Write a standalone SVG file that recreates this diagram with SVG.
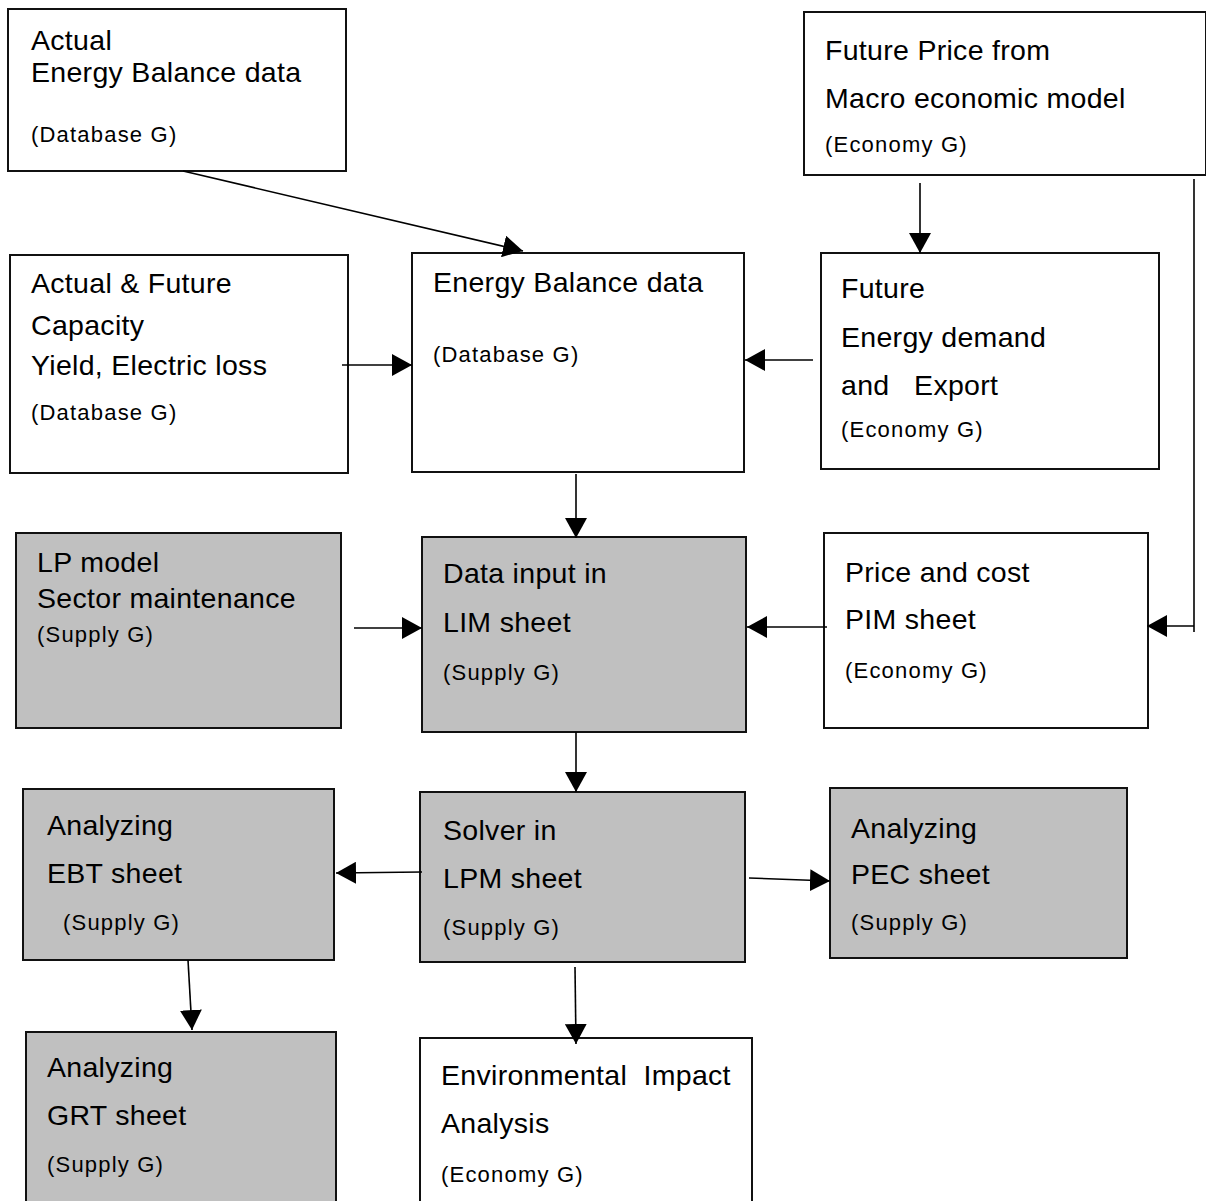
<svg xmlns="http://www.w3.org/2000/svg" width="1206" height="1201" viewBox="0 0 1206 1201">
<style>
.box{fill:#fff;stroke:#111;stroke-width:2}
.gray{fill:#c0c0c0;stroke:#111;stroke-width:2}
.t{font-family:"Liberation Sans",Arial,sans-serif;font-size:28.5px;letter-spacing:0.3px;fill:#000;white-space:pre}
.s{font-family:"Liberation Sans",Arial,sans-serif;font-size:22px;letter-spacing:1.2px;fill:#000;white-space:pre}
.c{fill:none;stroke:#000;stroke-width:1.6}
</style>
<defs>
<marker id="ah" markerUnits="userSpaceOnUse" markerWidth="20" markerHeight="22" viewBox="0 0 20 22" refX="20" refY="11" orient="auto">
<path d="M0,0 L20,11 L0,22 z" fill="#000"/>
</marker>
</defs>
<rect width="1206" height="1201" fill="#fff"/>
<g id="n1">
<rect class="box" x="8" y="9" width="338" height="162"/>
<text class="t" x="31" y="50">Actual</text>
<text class="t" x="31" y="82">Energy Balance data</text>
<text class="s" x="31" y="142">(Database G)</text>
</g>
<g id="n2">
<rect class="box" x="804" y="12" width="402" height="163"/>
<text class="t" x="825" y="60">Future Price from</text>
<text class="t" x="825" y="108">Macro economic model</text>
<text class="s" x="825" y="152">(Economy G)</text>
</g>
<g id="n3">
<rect class="box" x="10" y="255" width="338" height="218"/>
<text class="t" x="31" y="293">Actual &amp; Future</text>
<text class="t" x="31" y="335">Capacity</text>
<text class="t" x="31" y="375">Yield, Electric loss</text>
<text class="s" x="31" y="420">(Database G)</text>
</g>
<g id="n4">
<rect class="box" x="412" y="253" width="332" height="219"/>
<text class="t" x="433" y="292">Energy Balance data</text>
<text class="s" x="433" y="362">(Database G)</text>
</g>
<g id="n5">
<rect class="box" x="821" y="253" width="338" height="216"/>
<text class="t" x="841" y="298">Future</text>
<text class="t" x="841" y="347">Energy demand</text>
<text class="t" x="841" y="395">and   Export</text>
<text class="s" x="841" y="437">(Economy G)</text>
</g>
<g id="n6">
<rect class="gray" x="16" y="533" width="325" height="195"/>
<text class="t" x="37" y="572">LP model</text>
<text class="t" x="37" y="608">Sector maintenance</text>
<text class="s" x="37" y="642">(Supply G)</text>
</g>
<g id="n7">
<rect class="gray" x="422" y="537" width="324" height="195"/>
<text class="t" x="443" y="583">Data input in</text>
<text class="t" x="443" y="632">LIM sheet</text>
<text class="s" x="443" y="680">(Supply G)</text>
</g>
<g id="n8">
<rect class="box" x="824" y="533" width="324" height="195"/>
<text class="t" x="845" y="582">Price and cost</text>
<text class="t" x="845" y="629">PIM sheet</text>
<text class="s" x="845" y="678">(Economy G)</text>
</g>
<g id="n9">
<rect class="gray" x="23" y="789" width="311" height="171"/>
<text class="t" x="47" y="835">Analyzing</text>
<text class="t" x="47" y="883">EBT sheet</text>
<text class="s" x="63" y="930">(Supply G)</text>
</g>
<g id="n10">
<rect class="gray" x="420" y="792" width="325" height="170"/>
<text class="t" x="443" y="840">Solver in</text>
<text class="t" x="443" y="888">LPM sheet</text>
<text class="s" x="443" y="935">(Supply G)</text>
</g>
<g id="n11">
<rect class="gray" x="830" y="788" width="297" height="170"/>
<text class="t" x="851" y="838">Analyzing</text>
<text class="t" x="851" y="884">PEC sheet</text>
<text class="s" x="851" y="930">(Supply G)</text>
</g>
<g id="n12">
<rect class="gray" x="26" y="1032" width="310" height="180"/>
<text class="t" x="47" y="1077">Analyzing</text>
<text class="t" x="47" y="1125">GRT sheet</text>
<text class="s" x="47" y="1172">(Supply G)</text>
</g>
<g id="n13">
<rect class="box" x="420" y="1038" width="332" height="175"/>
<text class="t" x="441" y="1085">Environmental  Impact</text>
<text class="t" x="441" y="1133">Analysis</text>
<text class="s" x="441" y="1182">(Economy G)</text>
</g>
<g id="connectors">
<line class="c" x1="183" y1="171" x2="523" y2="251" marker-end="url(#ah)"/>
<line class="c" x1="342" y1="365" x2="412" y2="365" marker-end="url(#ah)"/>
<line class="c" x1="813" y1="360" x2="745" y2="360" marker-end="url(#ah)"/>
<line class="c" x1="920" y1="183" x2="920" y2="253" marker-end="url(#ah)"/>
<line class="c" x1="1194" y1="179" x2="1194" y2="632"/>
<line class="c" x1="1194" y1="626" x2="1147" y2="626" marker-end="url(#ah)"/>
<line class="c" x1="576" y1="474" x2="576" y2="538" marker-end="url(#ah)"/>
<line class="c" x1="354" y1="628" x2="422" y2="628" marker-end="url(#ah)"/>
<line class="c" x1="827" y1="627" x2="747" y2="627" marker-end="url(#ah)"/>
<line class="c" x1="576" y1="732" x2="576" y2="792" marker-end="url(#ah)"/>
<line class="c" x1="422" y1="872" x2="336" y2="873" marker-end="url(#ah)"/>
<line class="c" x1="749" y1="878" x2="830" y2="881" marker-end="url(#ah)"/>
<line class="c" x1="188" y1="960" x2="192" y2="1030" marker-end="url(#ah)"/>
<line class="c" x1="575" y1="967" x2="576" y2="1044" marker-end="url(#ah)"/>
</g>
</svg>
